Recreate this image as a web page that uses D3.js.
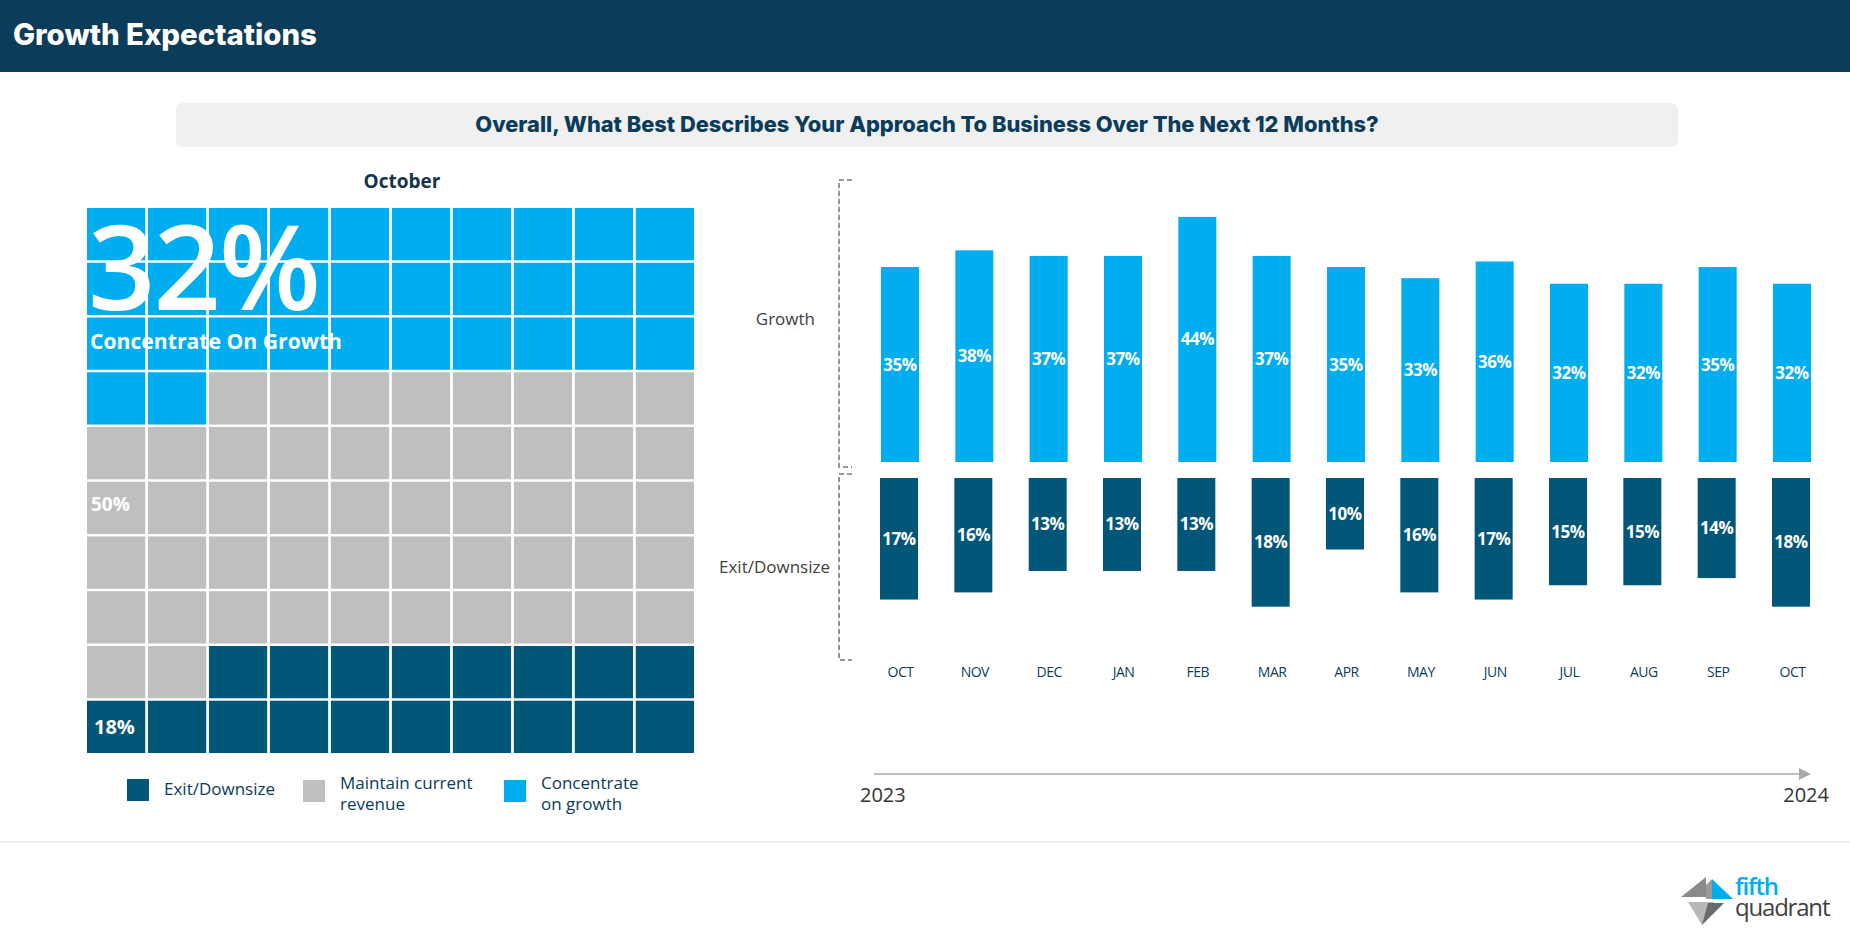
<!DOCTYPE html>
<html>
<head>
<meta charset="utf-8">
<script src="https://cdn.jsdelivr.net/npm/d3@7"></script>
<style>
  html, body { margin: 0; padding: 0; background: #ffffff; }
  svg { display: block; }
</style>
</head>
<body>
<svg id="chart" width="1850" height="933"></svg>
<script>
// ---------- DATA ----------
const months = ["OCT","NOV","DEC","JAN","FEB","MAR","APR","MAY","JUN","JUL","AUG","SEP","OCT"];
const growthVals = [35,38,37,37,44,37,35,33,36,32,32,35,32];
const exitVals   = [17,16,13,13,13,18,10,16,17,15,15,14,18];
const waffleCategories = ["Concentrate on growth","Maintain current revenue","Exit/Downsize"];
const waffleShares = [32, 50, 18];
const legendLabels = [["Exit/Downsize"],["Maintain current","revenue"],["Concentrate","on growth"]];
const yearLabels = ["2023","2024"];
const rowLabels = ["Growth","Exit/Downsize"];

// ---------- STYLE ----------
const NAVY = "#0b3c5a";
const BLUE = "#00adee";
const GREY = "#bfbfbf";
const DARK = "#025778";
const FONT = "'Open Sans', sans-serif";
const HFONT = "Inter, Lato, sans-serif";

const svg = d3.select("#chart");

// scale a text's font-size so its rendered width matches a target width
function fitWidth(sel, target) {
  const fs = parseFloat(sel.attr("font-size"));
  const w = sel.node().getComputedTextLength();
  if (w > 0) sel.attr("font-size", (fs * target / w).toFixed(2));
  return sel;
}

// ---------- HEADER ----------
svg.append("rect").attr("x",0).attr("y",0).attr("width",1850).attr("height",72).attr("fill",NAVY);
const title = svg.append("text").attr("x",13).attr("y",45)
  .attr("font-family",HFONT).attr("font-weight",800).attr("font-size",26)
  .attr("fill","#ffffff").text("Growth Expectations");
fitWidth(title, 304);

// subtitle box
svg.append("rect").attr("x",176).attr("y",103).attr("width",1502).attr("height",44)
  .attr("rx",7).attr("fill","#f0f0f0");
const sub = svg.append("text").attr("x",927).attr("y",132).attr("text-anchor","middle")
  .attr("font-family",HFONT).attr("font-weight",800).attr("font-size",20)
  .attr("fill",NAVY).text("Overall, What Best Describes Your Approach To Business Over The Next 12 Months?");
fitWidth(sub, 904);

// ---------- WAFFLE ----------
svg.append("text").attr("x",402).attr("y",188).attr("text-anchor","middle")
  .attr("font-family",FONT).attr("font-weight",700).attr("font-size",19)
  .attr("fill","#15334a").text("October");

const idx10 = d3.range(10);
const wx = d3.scaleBand().domain(idx10).range([87, 694]).paddingInner(0.045);
const wy = d3.scaleBand().domain(idx10).range([208, 753]).paddingInner(0.045);
const waffleColor = d3.scaleOrdinal().domain(waffleCategories).range([BLUE, GREY, DARK]);

// build 100 cells from shares
const cells = [];
waffleCategories.forEach((c, ci) => {
  for (let k = 0; k < waffleShares[ci]; k++) cells.push(c);
});
svg.append("g").selectAll("rect").data(cells).join("rect")
  .attr("x", (d,i) => wx(i % 10))
  .attr("y", (d,i) => wy(Math.floor(i / 10)))
  .attr("width", wx.bandwidth())
  .attr("height", wy.bandwidth())
  .attr("fill", d => waffleColor(d));

// waffle labels
svg.append("text").attr("x", wx(0) + 1).attr("y", 310)
  .attr("font-family",FONT).attr("font-weight",600).attr("font-size",118)
  .attr("letter-spacing",-2)
  .attr("fill","#ffffff").text(waffleShares[0] + "%");
const cog = svg.append("text").attr("x", wx(0) + 3).attr("y", 349)
  .attr("font-family",FONT).attr("font-weight",700).attr("font-size",20)
  .attr("fill","#ffffff").text("Concentrate On Growth");
fitWidth(cog, 252);
svg.append("text").attr("x", wx(0) + 4).attr("y", 511)
  .attr("font-family",FONT).attr("font-weight",700).attr("font-size",19)
  .attr("fill","#ffffff").text(waffleShares[1] + "%");
svg.append("text").attr("x", wx(0) + 7).attr("y", 734)
  .attr("font-family",FONT).attr("font-weight",700).attr("font-size",20)
  .attr("fill","#ffffff").text(waffleShares[2] + "%");

// legend
const legendColors = [DARK, GREY, BLUE];
const legendX = [127, 303, 504];
const lg = svg.append("g").selectAll("g").data(legendLabels).join("g")
  .attr("transform", (d,i) => `translate(${legendX[i]},0)`);
lg.append("rect").attr("x",0).attr("y",(d,i)=> i===0 ? 779 : 780).attr("width",22).attr("height",22)
  .attr("fill",(d,i)=>legendColors[i]);
lg.each(function(d){
  const t = d3.select(this).append("text").attr("font-family",FONT).attr("font-size",17)
    .attr("fill",NAVY);
  d.forEach((line, j) => {
    t.append("tspan").attr("x", 37).attr("y", d.length === 1 ? 795 : 789 + j*21).text(line);
  });
});

// ---------- BAR CHART ----------
const idx13 = d3.range(months.length);
const x = d3.scalePoint().domain(idx13).range([900, 1792]);
const barW = 38;
const yG = d3.scaleLinear().domain([0, 50]).range([462, 183.5]);
const yE = d3.scaleLinear().domain([0, 25]).range([478, 656.75]);

// brackets
function bracket(y0, y1) {
  svg.append("path")
    .attr("d", `M852,${y0} H839 V${y1} H852`)
    .attr("fill","none").attr("stroke","#7a7a7a").attr("stroke-width",1.6)
    .attr("stroke-dasharray","5,3");
}
bracket(180, 467);
bracket(474, 660);

svg.append("text").attr("x",815).attr("y",325).attr("text-anchor","end")
  .attr("font-family",FONT).attr("font-size",17).attr("fill","#404040").text(rowLabels[0]);
svg.append("text").attr("x",830).attr("y",573).attr("text-anchor","end")
  .attr("font-family",FONT).attr("font-size",17).attr("fill","#404040").text(rowLabels[1]);

// growth bars
const gG = svg.append("g");
gG.selectAll("rect").data(growthVals).join("rect")
  .attr("x",(d,i)=>x(i)-barW/2).attr("width",barW)
  .attr("y",d=>yG(d)).attr("height",d=>yG(0)-yG(d))
  .attr("fill",BLUE);
gG.selectAll("text").data(growthVals).join("text")
  .attr("x",(d,i)=>x(i)).attr("y",d=>(yG(d)+yG(0))/2 + 6)
  .attr("text-anchor","middle").attr("font-family",FONT).attr("font-weight",700)
  .attr("font-size",17).attr("letter-spacing",-0.5).attr("fill","#ffffff").text(d=>d+"%");

// exit bars
const gE = svg.append("g");
gE.selectAll("rect").data(exitVals).join("rect")
  .attr("x",(d,i)=>x(i)-barW/2-1).attr("width",barW)
  .attr("y",yE(0)).attr("height",d=>yE(d)-yE(0))
  .attr("fill",DARK);
gE.selectAll("text").data(exitVals).join("text")
  .attr("x",(d,i)=>x(i)-1).attr("y",d=>(yE(d)+yE(0))/2 + 6)
  .attr("text-anchor","middle").attr("font-family",FONT).attr("font-weight",700)
  .attr("font-size",17).attr("letter-spacing",-0.5).attr("fill","#ffffff").text(d=>d+"%");

// month axis
const xAxis = d3.axisBottom(x).tickSize(0).tickPadding(0).tickFormat(i => months[i]);
const ax = svg.append("g").attr("transform","translate(0,667)").call(xAxis);
ax.select(".domain").remove();
ax.selectAll("text").attr("font-family",FONT).attr("font-size",14)
  .attr("fill",NAVY).attr("dy","0.71em").attr("letter-spacing",-0.5);

// timeline arrow
svg.append("line").attr("x1",874).attr("x2",1800).attr("y1",774).attr("y2",774)
  .attr("stroke","#aaaaaa").attr("stroke-width",1.5);
svg.append("path").attr("d","M1799,768 L1811,774 L1799,780 Z").attr("fill","#aaaaaa");
svg.append("text").attr("x",860).attr("y",802)
  .attr("font-family",FONT).attr("font-size",20).attr("fill","#333333").text(yearLabels[0]);
svg.append("text").attr("x",1829).attr("y",802).attr("text-anchor","end")
  .attr("font-family",FONT).attr("font-size",20).attr("fill","#333333").text(yearLabels[1]);

// separator
svg.append("line").attr("x1",0).attr("x2",1850).attr("y1",842).attr("y2",842)
  .attr("stroke","#d9d9d9").attr("stroke-width",1.2);

// ---------- LOGO ----------
const logo = svg.append("g");
logo.append("path").attr("d","M1681,897 L1706,877 L1706,897 Z").attr("fill","#8a8a8a");
logo.append("path").attr("d","M1712,879 L1733,899 L1712,899 Z").attr("fill",BLUE);
logo.append("path").attr("d","M1688,902 L1714,902 L1702,925 Z").attr("fill","#b8b8b8");
logo.append("path").attr("d","M1702,925 L1724,903 L1708,903 Z").attr("fill","#6a6a6a");
logo.append("path").attr("d","M1706,885 L1712,879 L1712,899 L1706,899 Z").attr("fill","#9a9a9a");
logo.append("text").attr("x",1735).attr("y",895)
  .attr("font-family",FONT).attr("font-weight",600).attr("font-size",24).attr("letter-spacing",-1.2)
  .attr("fill",BLUE).text("fifth");
logo.append("text").attr("x",1735).attr("y",916)
  .attr("font-family",FONT).attr("font-size",24).attr("letter-spacing",-1.2)
  .attr("fill","#404040").text("quadrant");
</script>
</body>
</html>
